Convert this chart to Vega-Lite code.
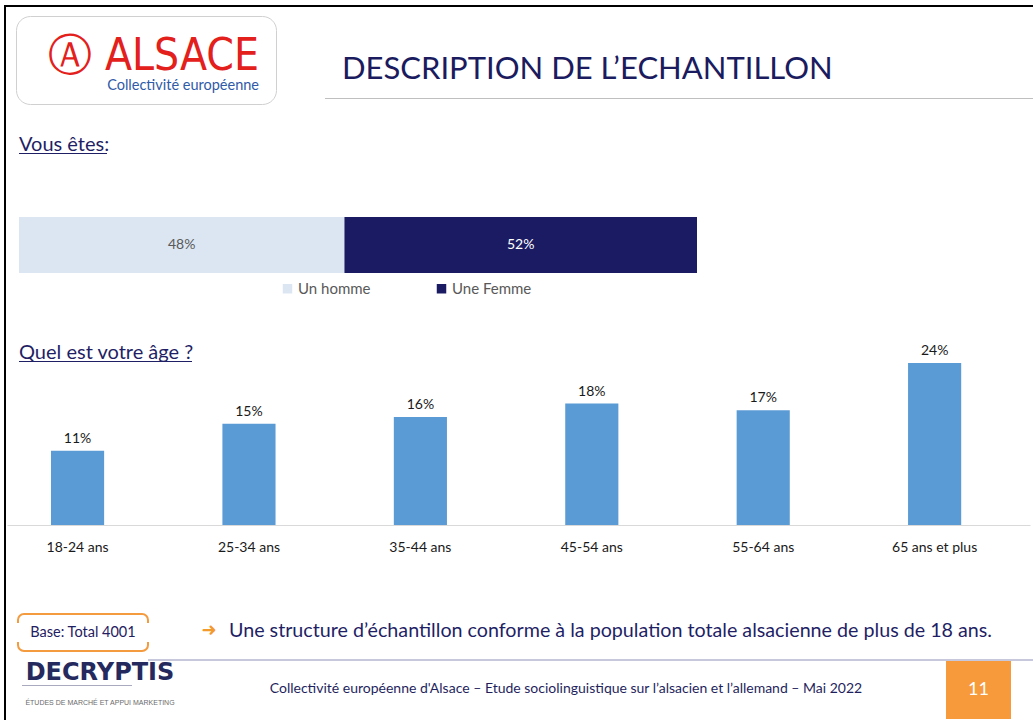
{
  "$schema": "https://vega.github.io/schema/vega-lite/v6.json",
  "background": "white",
  "padding": {"left": 4, "top": 5, "right": 0, "bottom": 0},
  "config": {
    "view": {"stroke": null},
    "concat": {"spacing": 0},
    "font": "Lato",
    "title": {"fontWeight": "normal", "frame": "group"}
  },
  "spacing": 0,
  "hconcat": [
    {"width": 2, "height": 715, "data": {"values": []}, "mark": "text", "view": {"fill": "#000000", "stroke": null}},
    {
      "spacing": 0,
      "vconcat": [
        {"width": 1027, "height": 2, "data": {"values": []}, "mark": "text", "view": {"fill": "#000000", "stroke": null}},
        {"width": 1027, "height": 8, "data": {"values": []}, "mark": "text"},
        {
          "spacing": 0,
          "hconcat": [
            {"width": 9, "height": 88, "data": {"values": []}, "mark": "text"},
            {
              "width": 260, "height": 88, "data": {"values": []}, "mark": "text",
              "view": {"fill": "#FFFFFF", "stroke": "#D0D0D0", "strokeWidth": 1, "cornerRadius": 14},
              "title": {
                "text": "Ⓐ ALSACE", "subtitle": "Collectivité européenne",
                "anchor": "end", "dx": -17, "offset": -76,
                "font": "Liberation Sans Narrow, DejaVu Sans Condensed, sans-serif", "fontSize": 44, "color": "#E3201B",
                "subtitleFont": "Lato", "subtitleFontSize": 14.5, "subtitleColor": "#2F5AA8", "subtitlePadding": 0
              }
            },
            {"width": 48, "height": 88, "data": {"values": []}, "mark": "text"},
            {
              "spacing": 0,
              "vconcat": [
                {
                  "width": 710, "height": 82, "data": {"values": []}, "mark": "text",
                  "title": {"text": "DESCRIPTION DE L’ECHANTILLON", "anchor": "start", "dx": 17, "offset": -70, "fontSize": 31, "color": "#1B1B60", "font": "Lato"}
                },
                {"width": 710, "height": 1, "data": {"values": []}, "mark": "text", "view": {"fill": "#BFBFBF", "stroke": null}}
              ]
            }
          ]
        },
        {"width": 1027, "height": 30, "data": {"values": []}, "mark": "text"},
        {
          "spacing": 0,
          "hconcat": [
            {"width": 13, "height": 1, "data": {"values": []}, "mark": "text"},
            {
              "width": 88, "height": 1, "data": {"values": []}, "mark": "text",
              "view": {"fill": "#1F1F66", "stroke": null},
              "title": {"text": "Vous êtes:", "anchor": "start", "offset": -2, "fontSize": 20, "color": "#1F1F66", "font": "Lato"}
            }
          ]
        },
        {"width": 1027, "height": 62, "data": {"values": []}, "mark": "text"},
        {
          "spacing": 0,
          "hconcat": [
            {"width": 13, "height": 56, "data": {"values": []}, "mark": "text"},
            {
              "width": 678, "height": 56,
              "data": {"values": [
                {"sexe": "Un homme", "pct": 0.48},
                {"sexe": "Une Femme", "pct": 0.52}
              ]},
              "layer": [
                {
                  "mark": {"type": "bar"},
                  "encoding": {
                    "x": {"field": "pct", "type": "quantitative", "stack": "zero", "scale": {"domain": [0, 1], "nice": false}, "axis": null},
                    "y": {"datum": "Vous êtes", "type": "nominal", "scale": {"paddingInner": 0, "paddingOuter": 0}, "axis": null},
                    "color": {
                      "field": "sexe", "type": "nominal",
                      "scale": {"domain": ["Un homme", "Une Femme"], "range": ["#DCE6F2", "#1B1B63"]},
                      "legend": {
                        "orient": "none", "legendX": 276, "legendY": 276, "direction": "horizontal", "title": null,
                        "symbolType": "square", "symbolSize": 90, "symbolStrokeWidth": 0,
                        "labelFont": "Lato", "labelFontSize": 15, "labelColor": "#595959", "columnPadding": 63, "labelOffset": 3
                      }
                    }
                  }
                },
                {
                  "transform": [
                    {"stack": "pct", "groupby": [], "sort": [{"field": "sexe", "order": "ascending"}], "as": ["x0", "x1"]},
                    {"calculate": "(datum.x0 + datum.x1) / 2", "as": "mid"}
                  ],
                  "mark": {"type": "text", "fontSize": 14, "font": "Lato"},
                  "encoding": {
                    "x": {"field": "mid", "type": "quantitative"},
                    "y": {"datum": "Vous êtes", "type": "nominal"},
                    "text": {"field": "pct", "format": ".0%"},
                    "color": {"condition": {"test": "datum.sexe === 'Une Femme'", "value": "#FFFFFF"}, "value": "#595959"}
                  }
                }
              ]
            }
          ]
        },
        {"width": 1027, "height": 70, "data": {"values": []}, "mark": "text"},
        {
          "spacing": -20,
          "vconcat": [
            {
              "spacing": 0,
              "hconcat": [
                {"width": 13, "height": 1, "data": {"values": []}, "mark": "text"},
                {
                  "width": 173, "height": 1, "data": {"values": []}, "mark": "text",
                  "view": {"fill": "#1F1F66", "stroke": null},
                  "title": {"text": "Quel est votre âge ?", "anchor": "start", "offset": -2, "fontSize": 20, "color": "#1F1F66", "font": "Lato"}
                }
              ]
            },
            {
              "spacing": 0,
              "hconcat": [
                {"width": 1, "height": 162, "data": {"values": []}, "mark": "text"},
                {
                  "width": 1023, "height": 162,
                  "data": {"values": [
                    {"age": "18-24 ans", "pct": 0.11},
                    {"age": "25-34 ans", "pct": 0.15},
                    {"age": "35-44 ans", "pct": 0.16},
                    {"age": "45-54 ans", "pct": 0.18},
                    {"age": "55-64 ans", "pct": 0.17},
                    {"age": "65 ans et plus", "pct": 0.24}
                  ]},
                  "encoding": {
                    "x": {
                      "field": "age", "type": "nominal", "sort": null,
                      "scale": {"paddingInner": 0.69, "paddingOuter": 0.329, "align": 0.39},
                      "axis": {"title": null, "labelAngle": 0, "ticks": false, "grid": false, "domainColor": "#D9D9D9", "domainWidth": 1, "labelFont": "Lato", "labelFontSize": 14, "labelColor": "#1A1A1A", "labelPadding": 15}
                    },
                    "y": {"field": "pct", "type": "quantitative", "scale": {"domain": [0, 0.24], "nice": false}, "axis": null}
                  },
                  "layer": [
                    {"mark": {"type": "bar", "color": "#5B9BD5"}},
                    {
                      "mark": {"type": "text", "baseline": "alphabetic", "dy": -8, "fontSize": 14, "color": "#1A1A1A", "font": "Lato"},
                      "encoding": {"text": {"field": "pct", "format": ".0%"}}
                    }
                  ]
                }
              ]
            }
          ]
        },
        {"width": 1027, "height": 59, "data": {"values": []}, "mark": "text"},
        {
          "spacing": 0,
          "hconcat": [
            {"width": 11, "height": 37, "data": {"values": []}, "mark": "text"},
            {
              "width": 130, "height": 37,
              "data": {"values": [{"label": "Base: Total 4001"}]},
              "mark": {"type": "text", "fontSize": 14.5, "color": "#1F2062", "font": "Lato"},
              "encoding": {"text": {"field": "label"}},
              "view": {"fill": "#FFFFFF", "stroke": "#F49A3F", "strokeWidth": 2, "cornerRadius": 6, "strokeDash": [130.4, 19, 142.8, 19, 12.4]}
            },
            {"width": 50, "height": 37, "data": {"values": []}, "mark": "text"},
            {
              "width": 20, "height": 34,
              "data": {"values": [{"label": "➜"}]},
              "mark": {"type": "text", "fontSize": 18, "color": "#F39A2E", "font": "DejaVu Sans"},
              "encoding": {"text": {"field": "label"}}
            },
            {"width": 7, "height": 34, "data": {"values": []}, "mark": "text"},
            {
              "width": 769, "height": 34,
              "data": {"values": [{"label": "Une structure d’échantillon conforme à la population totale alsacienne de plus de 18 ans."}]},
              "mark": {"type": "text", "fontSize": 19.7, "color": "#1F1F66", "font": "Lato"},
              "encoding": {"text": {"field": "label"}}
            },
            {"width": 40, "height": 37, "data": {"values": []}, "mark": "text"}
          ]
        },
        {"width": 1027, "height": 7, "data": {"values": []}, "mark": "text"},
        {
          "spacing": 0,
          "hconcat": [
            {"width": 142, "height": 2, "data": {"values": []}, "mark": "text"},
            {"width": 885, "height": 2, "data": {"values": []}, "mark": "text", "view": {"fill": "#C8C8DC", "stroke": null}}
          ]
        },
        {
          "spacing": 0,
          "hconcat": [
            {"width": 16, "height": 58, "data": {"values": []}, "mark": "text"},
            {
              "spacing": 0,
              "vconcat": [
                {
                  "width": 156, "height": 24,
                  "data": {"values": [{"label": "DECRYPTIS"}]},
                  "mark": {"type": "text", "fontSize": 24, "fontWeight": "bold", "color": "#252A5E", "font": "DejaVu Sans"},
                  "encoding": {"text": {"field": "label"}}
                },
                {"width": 110, "height": 1, "data": {"values": []}, "mark": "text", "view": {"fill": "#A9A9BF", "stroke": null}},
                {
                  "width": 156, "height": 33,
                  "data": {"values": [{"label": "ÉTUDES DE MARCHÉ ET APPUI MARKETING"}]},
                  "mark": {"type": "text", "fontSize": 7, "color": "#6B6B6B", "font": "Liberation Sans"},
                  "encoding": {"text": {"field": "label"}}
                }
              ]
            },
            {"width": 22, "height": 58, "data": {"values": []}, "mark": "text"},
            {
              "width": 732, "height": 56,
              "data": {"values": [{"label": "Collectivité européenne d'Alsace – Etude sociolinguistique sur l’alsacien et l’allemand – Mai 2022"}]},
              "mark": {"type": "text", "fontSize": 14, "color": "#1F1F5E", "font": "Lato"},
              "encoding": {"text": {"field": "label"}}
            },
            {"width": 14, "height": 58, "data": {"values": []}, "mark": "text"},
            {
              "width": 65, "height": 58,
              "data": {"values": [{"page": "11"}]},
              "mark": {"type": "text", "fontSize": 18, "color": "#FFFFFF", "font": "Lato"},
              "encoding": {"text": {"field": "page"}},
              "view": {"fill": "#F79A3B", "stroke": null}
            },
            {"width": 22, "height": 58, "data": {"values": []}, "mark": "text"}
          ]
        }
      ]
    }
  ]
}
